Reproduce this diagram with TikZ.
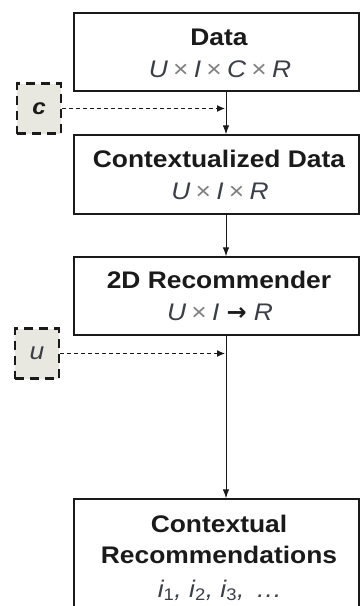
\documentclass[tikz,border=0pt]{standalone}
\usepackage{fontspec}
\setmainfont{Liberation Sans}[FakeStretch=1.1]
\newfontfamily\arrowfont{DejaVu Sans}
\usetikzlibrary{arrows.meta}
\definecolor{inkc}{HTML}{1A1A1A}
\definecolor{formc}{HTML}{3A3F48}
\definecolor{timesc}{HTML}{808080}
\definecolor{ctxfill}{HTML}{E8E8E1}
% thin upright multiplication sign used inside the formulas
\newcommand{\crossop}{\hspace{0.22em}{\upshape\color{timesc}×}\hspace{0.22em}}
\newcommand{\subnum}[1]{\textsubscript{\upshape #1}}
\begin{document}
\begin{tikzpicture}[x=1pt,y=-1pt,
  stage/.style={draw=inkc, line width=1.3pt, rectangle, minimum width=285pt, inner sep=0pt},
  title/.style={font=\fontsize{24}{28}\selectfont\bfseries, text=inkc, anchor=base, inner sep=0pt},
  formula/.style={font=\fontsize{24}{28}\selectfont\itshape, text=formc, anchor=base, inner sep=0pt},
  ctxbox/.style={draw=inkc, fill=ctxfill, line width=2.6pt, dash pattern=on 9pt off 6pt,
    rectangle, minimum width=44pt, minimum height=50pt, inner sep=0pt},
  flow/.style={draw=inkc, line width=1pt, -{Latex[length=9pt,width=6.5pt]}},
  feed/.style={draw=inkc, line width=1pt, dash pattern=on 4pt off 3pt,
    -{Latex[length=8pt,width=7pt]}, shorten >=1pt}
]
\useasboundingbox (0,0) rectangle (360,606);
\clip (0,0) rectangle (360,606);

% vertical spine carrying the flow between the stages
\coordinate (spine) at (226,0);

% stages
\node[stage, minimum height=78pt] (data) at (216.5,52) {};
\node[title]   (dataT) at (219,45) {Data};
\node[formula] (dataF) at (220,77) {U\crossop I\crossop C\crossop R};

\node[stage, minimum height=79pt] (ctxdata) at (216.5,174.5) {};
\node[title]   (ctxdataT) at (219,167) {Contextualized Data};
\node[formula] (ctxdataF) at (220,199) {U\crossop I\crossop R};

\node[stage, minimum height=78pt] (rec) at (216.5,296) {};
\node[title]   (recT) at (219,288) {2D Recommender};
\node[formula] (recF) at (220,320) {U\crossop I\hspace{0.3em}{\arrowfont\upshape\bfseries\color{inkc}→}\hspace{0.3em}R};

\node[stage, minimum height=160pt] (out) at (216.5,579) {};
\node[title]   (outT1) at (219,532) {Contextual};
\node[title]   (outT2) at (219,563) {Recommendations};
\node[formula] (outF) at (220,597) {i\subnum{1}, i\subnum{2}, i\subnum{3}, \,…};

% context and user inputs
\node[ctxbox, text=inkc, font=\fontsize{22}{26}\selectfont\bfseries\itshape] (c) at (39,108.5) {c};
\node[ctxbox, text=formc, font=\fontsize{24}{28}\selectfont\itshape] (u) at (37,353.5) {u};

% connectors
\draw[flow] (data.south -| spine) -- (ctxdata.north -| spine);
\draw[flow] (ctxdata.south -| spine) -- (rec.north -| spine);
\draw[flow] (rec.south -| spine) -- (out.north -| spine);
\draw[feed] (c.east) -- (c.east -| spine);
\draw[feed] (u.east) -- (u.east -| spine);
\end{tikzpicture}
\end{document}
